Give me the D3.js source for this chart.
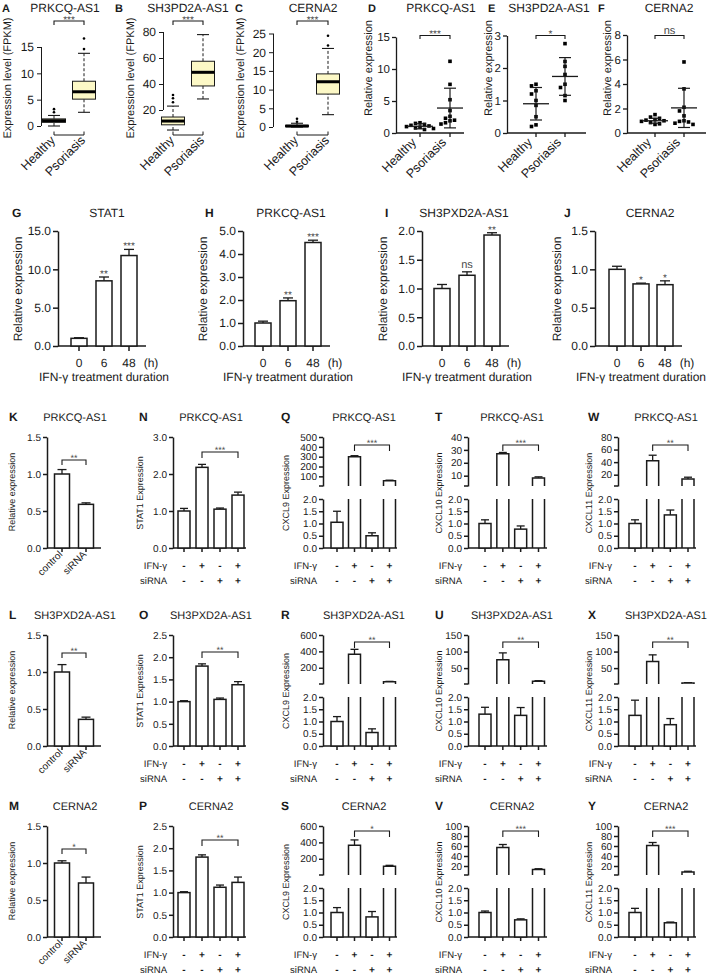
<!DOCTYPE html>
<html>
<head>
<meta charset="utf-8">
<script src="https://cdn.jsdelivr.net/npm/d3@7/dist/d3.min.js"></script>
<style>
html,body{margin:0;padding:0;background:#fff;}
svg{display:block;}
svg text{text-rendering:geometricPrecision;}
</style>
</head>
<body>
<svg id="fig" width="709" height="976" xmlns="http://www.w3.org/2000/svg"></svg>
<script>
// ================= DATA =================
// A–C : RNA-seq boxplots (FPKM)
const boxLetters = ["A", "B", "C"];
const boxGenes = ["PRKCQ-AS1", "SH3PD2A-AS1", "CERNA2"];
const boxGroups = ["Healthy", "Psoriasis"];
const boxTicks = [[0, 5, 10, 15], [20, 40, 60, 80], [0, 5, 10, 15, 20, 25]];
// [lower whisker, Q1, median, Q3, upper whisker]
const boxHealthy = [[0, 0.7, 1.0, 1.35, 2.0], [4.6, 8.6, 11.5, 14.6, 23], [0, 0.1, 0.25, 0.45, 1.0]];
const boxPsoriasis = [[2.6, 5.1, 6.5, 8.5, 13.8], [28.5, 38.5, 49, 57.5, 78], [3.3, 8.8, 12.1, 14.2, 21]];
const boxOutHealthy = [[2.6, 3.2], [26, 29, 31.5], [1.4, 2.2]];
const boxOutPsoriasis = [[14.6, 16.6], [], [21.8, 24.4]];
const boxSig = ["***", "***", "***"];

// D–F : qPCR of patient samples (points, mean ± SD)
const dotLetters = ["D", "E", "F"];
const dotGenes = ["PRKCQ-AS1", "SH3PD2A-AS1", "CERNA2"];
const dotTicks = [[0, 5, 10, 15], [0, 1, 2, 3], [0, 2, 4, 6, 8]];
const dotHealthy = [
  [1.6, 1.5, 1.35, 1.2, 1.1, 1.0, 0.9, 0.8, 0.7, 0.55],
  [1.5, 1.45, 1.3, 1.2, 1.0, 0.85, 0.5, 0.25, 0.2],
  [1.5, 1.3, 1.2, 1.1, 1.05, 1.0, 0.95, 0.85, 0.75, 0.7]
];
const dotPsoriasis = [
  [11.2, 7.6, 5.2, 3.5, 2.6, 2.3, 2.0, 1.9, 1.6, 1.4],
  [2.75, 2.2, 2.05, 1.8, 1.5, 1.4, 1.15, 1.0],
  [5.8, 3.6, 2.1, 1.8, 1.4, 1.0, 0.95, 0.9, 0.8, 0.7]
];
const dotMean = [[1.05, 3.9], [0.9, 1.74], [1.0, 2.05]];
const dotSD = [[0.4, 3.1], [0.5, 0.58], [0.2, 1.6]];
const dotSig = ["***", "*", "ns"];

// G–J : IFN-γ time course
const timeLetters = ["G", "H", "I", "J"];
const timeGenes = ["STAT1", "PRKCQ-AS1", "SH3PXD2A-AS1", "CERNA2"];
const timePoints = ["0", "6", "48"];
const timeTicks = [[0, 5, 10, 15], [0, 1, 2, 3, 4, 5], [0, 0.5, 1, 1.5, 2], [0, 0.5, 1, 1.5]];
const timeMean = [[1.0, 8.5, 11.8], [1.0, 1.97, 4.5], [1.0, 1.23, 1.93], [1.0, 0.81, 0.8]];
const timeErr = [[0.08, 0.5, 0.8], [0.08, 0.12, 0.1], [0.07, 0.06, 0.04], [0.04, 0.01, 0.05]];
const timeSig = [["", "**", "***"], ["", "**", "***"], ["", "ns", "**"], ["", "*", "*"]];

// K–M : knockdown efficiency
const kdGenes = ["PRKCQ-AS1", "SH3PXD2A-AS1", "CERNA2"];
const kdLetters = ["K", "L", "M"];
const kdGroups = ["control", "siRNA"];
const kdTicks = [0, 0.5, 1.0, 1.5];
const kdMean = [[1.0, 0.59], [1.0, 0.36], [1.0, 0.73]];
const kdErr = [[0.06, 0.02], [0.1, 0.03], [0.03, 0.08]];
const kdSig = ["**", "**", "*"];

// N–P : STAT1 expression
const stat1Letters = ["N", "O", "P"];
const conditions = ["c1", "c2", "c3", "c4"];
const ifnSigns = ["-", "+", "-", "+"];
const sirnaSigns = ["-", "-", "+", "+"];
const stat1Ticks = [[0, 1, 2, 3], [0, 0.5, 1, 1.5, 2, 2.5], [0, 0.5, 1, 1.5, 2, 2.5]];
const stat1Mean = [[1.0, 2.18, 1.05, 1.43], [1.0, 1.8, 1.05, 1.38], [1.0, 1.8, 1.12, 1.23]];
const stat1Err = [[0.07, 0.08, 0.03, 0.08], [0.02, 0.05, 0.03, 0.07], [0.02, 0.05, 0.05, 0.12]];
const stat1Sig = ["***", "**", "**"];

// Q–Y : chemokines (broken y axis, lower 0–2)
const lowerTicks = [0, 0.5, 1, 1.5, 2];
const cxcl9Letters = ["Q", "R", "S"];
const cxcl9Upper = [[100, 200, 300, 400, 500], [200, 400, 600], [200, 400, 600]];
const cxcl9Mean = [[1.05, 300, 0.5, 55], [1.0, 365, 0.55, 30], [1.0, 365, 0.82, 110]];
const cxcl9Err = [[0.45, 10, 0.12, 6], [0.2, 60, 0.15, 4], [0.2, 65, 0.22, 10]];
const cxcl9Sig = ["***", "**", "*"];

const cxcl10Letters = ["T", "U", "V"];
const cxcl10Upper = [[10, 20, 30, 40], [50, 100, 150], [20, 40, 60, 80, 100]];
const cxcl10Mean = [[1.0, 27, 0.77, 8.3], [1.3, 75, 1.25, 10], [1.0, 57, 0.7, 13]];
const cxcl10Err = [[0.15, 1, 0.13, 0.8], [0.28, 21, 0.32, 2], [0.06, 6, 0.04, 1.5]];
const cxcl10Sig = ["***", "**", "***"];

const cxcl11Letters = ["W", "X", "Y"];
const cxcl11Upper = [[20, 40, 60, 80], [50, 100, 150], [20, 40, 60, 80, 100]];
const cxcl11Mean = [[1.0, 42, 1.35, 13], [1.25, 70, 0.87, 5], [1.0, 61, 0.58, 8]];
const cxcl11Err = [[0.15, 9, 0.2, 3], [0.62, 20, 0.25, 1], [0.17, 6, 0.03, 1.5]];
const cxcl11Sig = ["**", "**", "***"];

// ================= DRAWING =================
const svg = d3.select("#fig");
const FONT = "'Liberation Sans', Arial, Helvetica, sans-serif";
svg.attr("font-family", FONT);
svg.append("rect").attr("width", 709).attr("height", 976).attr("fill", "#fff");
const INK = "#1a1a1a";
const STAR = "#4a4a4a";
const f1 = d3.format(".1f"), fd = d3.format("d");

function text(g, x, y, s, o = {}) {
  const t = g.append("text").attr("x", x).attr("y", y).text(s)
    .attr("font-size", o.size || 11)
    .attr("fill", o.fill || INK)
    .attr("text-anchor", o.anchor || "middle");
  if (o.bold) t.attr("font-weight", "bold");
  if (o.rot != null) t.attr("transform", `rotate(${o.rot},${x},${y})`);
  if (o.mid) t.attr("dominant-baseline", "central");
  return t;
}
function line(g, x1, y1, x2, y2, w = 1.2, c = INK, dash) {
  const l = g.append("line").attr("x1", x1).attr("y1", y1).attr("x2", x2).attr("y2", y2)
    .attr("stroke", c).attr("stroke-width", w);
  if (dash) l.attr("stroke-dasharray", dash);
  return l;
}
function yAxis(g, x, scale, ticks, fmt, o = {}) {
  const ax = d3.axisLeft(scale).tickValues(ticks).tickFormat(fmt)
    .tickSize(o.ts ?? 4).tickSizeOuter(0).tickPadding(o.pad ?? 2);
  const a = g.append("g").attr("transform", `translate(${x},0)`).call(ax);
  a.attr("font-family", FONT).attr("font-size", o.fs || 10);
  a.select(".domain").attr("stroke", INK).attr("stroke-width", o.sw || 1.3);
  a.selectAll(".tick line").attr("stroke", INK).attr("stroke-width", o.sw || 1.3);
  a.selectAll(".tick text").attr("fill", INK);
  return a;
}
function sigText(g, x, yb, s, size = 10) {
  const star = s.includes("*");
  text(g, x, star ? yb + 0.38 * size : yb, s, {size: star ? size : size + 1, fill: STAR});
}
function bracket(g, x1, x2, y, h, label, size = 10) {
  g.append("path").attr("d", `M${x1},${y + h}V${y}H${x2}V${y + h}`)
    .attr("fill", "none").attr("stroke", INK).attr("stroke-width", 1.1);
  sigText(g, (x1 + x2) / 2, y - 2, label, size);
}
function barRect(g, cx, w, yTop, yBot) {
  g.append("rect").attr("x", cx - w / 2).attr("y", yTop).attr("width", w).attr("height", yBot - yTop)
    .attr("fill", "#fff").attr("stroke", INK).attr("stroke-width", 1.5);
}
function errBar(g, cx, y1, y2, cap = 4.5, w = 1.3) {
  line(g, cx, y1, cx, y2, w);
  line(g, cx - cap, y2, cx + cap, y2, w);
}

// ---------- A–C boxplots ----------
const boxLayout = [
  {ax: 41, xr: [54, 84], dom: [0, 15], rng: [126, 47], lx: 2, tx: 65, yx: 8},
  {ax: 163, xr: [173, 203], dom: [0, 80], rng: [136, 32], lx: 115, tx: 188, yx: 131},
  {ax: 273, xr: [297, 328], dom: [0, 25], rng: [127, 33.5], lx: 235, tx: 313, yx: 241}
];
boxGenes.forEach((gene, i) => {
  const L = boxLayout[i];
  const g = svg.append("g");
  const y = d3.scaleLinear().domain(L.dom).range(L.rng);
  const x = d3.scalePoint().domain(boxGroups).range(L.xr);
  const tk = boxTicks[i];
  const a = yAxis(g, L.ax, y, tk, fd, {fs: 12, ts: 4, pad: 3, sw: 1});
  a.select(".domain").attr("d", `M0.5,${y(tk[0])}V${y(tk[tk.length - 1])}`);
  text(g, L.lx, 12, boxLetters[i], {bold: true, anchor: "start", size: 11});
  text(g, L.tx, 12, gene, {size: 12});
  text(g, L.yx, 78, "Expression level (FPKM)", {size: 11, rot: -90, mid: true});
  [boxHealthy[i], boxPsoriasis[i]].forEach((s, j) => {
    const cx = x(boxGroups[j]), bw = 23, cw = 12;
    line(g, cx, y(s[0]), cx, y(s[1]), 1, INK, "3,2");
    line(g, cx, y(s[3]), cx, y(s[4]), 1, INK, "3,2");
    line(g, cx - cw / 2, y(s[0]), cx + cw / 2, y(s[0]), 1.1);
    line(g, cx - cw / 2, y(s[4]), cx + cw / 2, y(s[4]), 1.1);
    g.append("rect").attr("x", cx - bw / 2).attr("y", y(s[3])).attr("width", bw)
      .attr("height", y(s[1]) - y(s[3])).attr("fill", "#fcf8c6").attr("stroke", INK).attr("stroke-width", 1);
    line(g, cx - bw / 2, y(s[2]), cx + bw / 2, y(s[2]), 3, "#000");
    (j ? boxOutPsoriasis : boxOutHealthy)[i].forEach(v =>
      g.append("circle").attr("cx", cx).attr("cy", y(v)).attr("r", 1.3).attr("fill", "#000"));
    text(g, cx + 2, 141, boxGroups[j], {size: 12.5, anchor: "end", rot: -45});
  });
  const x0 = x(boxGroups[0]), x1 = x(boxGroups[1]);
  line(g, x0, 135, x1, 135, 1);
  line(g, x0, 135, x0, 131.5, 1);
  line(g, x1, 135, x1, 131.5, 1);
  bracket(g, x0, x1, 21, 4, boxSig[i], 10);
});

// ---------- D–F scatter ----------
const dotLayout = [
  {ax: 396, xr: [420, 450], end: 464, dom: [0, 15], rng: [133, 37], lx: 368, tx: 441, yx: 369},
  {ax: 507, xr: [536, 565], end: 586, dom: [0, 3], rng: [133, 35.5], lx: 488, tx: 549, yx: 489},
  {ax: 627, xr: [655, 684], end: 706, dom: [0, 8], rng: [133, 35], lx: 598, tx: 669, yx: 608}
];
function swarm(vals, y, cx) {
  const placed = [];
  const offs = [0, -4.5, 4.5, -9, 9, -13.5, 13.5];
  return vals.map(v => {
    const py = y(v);
    for (const o of offs) {
      if (placed.every(p => Math.hypot(p[0] - (cx + o), p[1] - py) >= 4.3)) {
        placed.push([cx + o, py]); return [cx + o, py];
      }
    }
    placed.push([cx, py]); return [cx, py];
  });
}
dotGenes.forEach((gene, i) => {
  const L = dotLayout[i];
  const g = svg.append("g");
  const y = d3.scaleLinear().domain(L.dom).range(L.rng);
  const x = d3.scalePoint().domain(boxGroups).range(L.xr);
  yAxis(g, L.ax, y, dotTicks[i], fd, {fs: 11.5, ts: 4, pad: 2, sw: 1.3});
  line(g, L.ax, y(0), L.end, y(0), 1.3);
  text(g, L.lx, 12, dotLetters[i], {bold: true, anchor: "start", size: 11});
  text(g, L.tx, 12, gene, {size: 12});
  text(g, L.yx, 68, "Relative expression", {size: 11, rot: -90, mid: true});
  [dotHealthy[i], dotPsoriasis[i]].forEach((vals, j) => {
    const cx = x(boxGroups[j]);
    line(g, cx, y(0), cx, y(0) + 4, 1.3);
    swarm(vals, y, cx).forEach(p =>
      g.append("rect").attr("x", p[0] - 1.8).attr("y", p[1] - 1.8).attr("width", 3.6).attr("height", 3.6).attr("fill", "#000"));
    const m = dotMean[i][j], sd = dotSD[i][j];
    line(g, cx - 13, y(m), cx + 13, y(m), 1.3);
    line(g, cx, y(Math.max(0, m - sd)), cx, y(m + sd), 1.2);
    line(g, cx - 6, y(m + sd), cx + 6, y(m + sd), 1.2);
    line(g, cx - 6, y(Math.max(0, m - sd)), cx + 6, y(Math.max(0, m - sd)), 1.2);
    text(g, cx - 3, 143, boxGroups[j], {size: 12.5, anchor: "end", rot: -45});
  });
  bracket(g, x(boxGroups[0]), x(boxGroups[1]), 35.5, 3.5, dotSig[i], 10);
});

// ---------- G–J time course ----------
const timeCols = [
  {ax: 58, xr: [79, 129], end: 146, lx: 12, tx: 107, yx: 18},
  {ax: 243, xr: [263, 313], end: 330, lx: 205, tx: 291, yx: 203},
  {ax: 422, xr: [442, 492], end: 509, lx: 385, tx: 464, yx: 383},
  {ax: 595, xr: [617, 665], end: 682, lx: 564, tx: 650, yx: 557}
];
timeGenes.forEach((gene, i) => {
  const C = timeCols[i];
  const g = svg.append("g");
  const tk = timeTicks[i];
  const y = d3.scaleLinear().domain([0, tk[tk.length - 1]]).range([346, 231]);
  const x = d3.scalePoint().domain(timePoints).range(C.xr);
  yAxis(g, C.ax, y, tk, f1, {fs: 12, ts: 5, pad: 2, sw: 1.5});
  line(g, C.ax, 346, C.end, 346, 1.5);
  timePoints.forEach((t, k) => {
    const cx = x(t), v = timeMean[i][k], e = timeErr[i][k];
    line(g, cx, 346, cx, 351, 1.5);
    text(g, cx, 367, t, {size: 12});
    errBar(g, cx, y(v), y(v + e), 5);
    barRect(g, cx, 16, y(v), 346);
    if (timeSig[i][k]) sigText(g, cx, y(v + e) - 4, timeSig[i][k], 10);
  });
  text(g, x(timePoints[2]) + 22, 367, "(h)", {size: 12});
  text(g, x(timePoints[1]), 381, "IFN-γ treatment duration", {size: 12});
  text(g, C.lx, 217, timeLetters[i], {bold: true, anchor: "start", size: 12});
  text(g, C.tx, 217, gene, {size: 12});
  text(g, C.yx, 289, "Relative expression", {size: 12, rot: -90, mid: true});
});

// ---------- K–Y ----------
const rowTop = [437, 635, 826];
const kdCol = {ax: 47, xr: [62, 86], bw: 15, end: 101, yx: 12, lx: 9, tx: 75};
const quadCols = [
  {ax: 173, xr: [184, 238], bw: 12, end: 246, yx: 140, lx: 139, tx: 211},
  {ax: 323, xr: [337, 389.5], bw: 12, end: 397, yx: 286, lx: 281, tx: 364},
  {ax: 468, xr: [485, 538.5], bw: 12, end: 547, yx: 439, lx: 435, tx: 512},
  {ax: 618, xr: [635, 688], bw: 12, end: 696, yx: 589, lx: 588, tx: 666}
];
const kdBracketY = [23, 18, 23];
const stat1BracketY = [15, 17, 14];
const brokenBracketY = [8, 7, 5];

function header(g, C, T0, letter, title) {
  text(g, C.lx, T0 - 16, letter, {bold: true, anchor: "start", size: 12});
  text(g, C.tx, T0 - 16, title, {size: 11});
}
function signRows(g, C, x, T0) {
  text(g, C.ax - 6, T0 + 131.5, "IFN-γ", {size: 9.5, anchor: "end"});
  text(g, C.ax - 6, T0 + 146.5, "siRNA", {size: 9.5, anchor: "end"});
  conditions.forEach((c, k) => {
    text(g, x(c), T0 + 132, ifnSigns[k], {size: 10, bold: true});
    text(g, x(c), T0 + 147, sirnaSigns[k], {size: 10, bold: true});
  });
}
function xBase(g, C, x, domain, y0) {
  line(g, C.ax, y0, C.end, y0, 1.5);
  domain.forEach(d => line(g, x(d), y0, x(d), y0 + 4, 1.5));
}

// K–M
kdGenes.forEach((gene, r) => {
  const T0 = rowTop[r], C = kdCol, g = svg.append("g");
  const y = d3.scaleLinear().domain([0, 1.5]).range([T0 + 111, T0]);
  const x = d3.scalePoint().domain(kdGroups).range(C.xr);
  yAxis(g, C.ax, y, kdTicks, f1, {fs: 10, ts: 4, pad: 2, sw: 1.5});
  xBase(g, C, x, kdGroups, T0 + 111);
  kdGroups.forEach((k, j) => {
    const cx = x(k), v = kdMean[r][j], e = kdErr[r][j];
    errBar(g, cx, y(v), y(v + e), 4.5);
    barRect(g, cx, C.bw, y(v), T0 + 111);
    text(g, cx + 1, T0 + 118, k, {size: 10, anchor: "end", rot: -45});
  });
  bracket(g, x(kdGroups[0]), x(kdGroups[1]), T0 + kdBracketY[r], 5, kdSig[r], 9);
  header(g, C, T0, kdLetters[r], gene);
  text(g, C.yx, T0 + 55, "Relative expression", {size: 9, rot: -90, mid: true});
});

// N–P
kdGenes.forEach((gene, r) => {
  const T0 = rowTop[r], C = quadCols[0], g = svg.append("g");
  const tk = stat1Ticks[r];
  const y = d3.scaleLinear().domain([0, tk[tk.length - 1]]).range([T0 + 111, T0]);
  const x = d3.scalePoint().domain(conditions).range(C.xr);
  yAxis(g, C.ax, y, tk, f1, {fs: 10, ts: 4, pad: 2, sw: 1.5});
  xBase(g, C, x, conditions, T0 + 111);
  conditions.forEach((c, k) => {
    const cx = x(c), v = stat1Mean[r][k], e = stat1Err[r][k];
    errBar(g, cx, y(v), y(v + e), 4);
    barRect(g, cx, C.bw, y(v), T0 + 111);
  });
  bracket(g, x(conditions[1]), x(conditions[3]), T0 + stat1BracketY[r], 6, stat1Sig[r], 9);
  signRows(g, C, x, T0);
  header(g, C, T0, stat1Letters[r], gene);
  text(g, C.yx, T0 + 56, "STAT1 Expression", {size: 9, rot: -90, mid: true});
});

// Q–Y broken-axis panels
function brokenPanel(C, r, letter, gene, ylab, upperTicks, means, errs, sig) {
  const T0 = rowTop[r], g = svg.append("g");
  const upMax = upperTicks[upperTicks.length - 1];
  const yl = d3.scaleLinear().domain([0, 2]).range([T0 + 111, T0 + 62]);
  const yu = d3.scaleLinear().domain([2, upMax]).range([T0 + 49, T0]);
  const x = d3.scalePoint().domain(conditions).range(C.xr);
  yAxis(g, C.ax, yl, lowerTicks, f1, {fs: 10, ts: 4, pad: 2, sw: 1.5});
  yAxis(g, C.ax, yu, upperTicks, fd, {fs: 10, ts: 4, pad: 2, sw: 1.5});
  line(g, C.ax - 4, T0 + 49, C.ax, T0 + 49, 1.5);
  xBase(g, C, x, conditions, T0 + 111);
  conditions.forEach((c, k) => {
    const cx = x(c), v = means[k], e = errs[k], hw = C.bw / 2;
    if (v <= 2) {
      errBar(g, cx, yl(v), yl(v + e), 4);
      barRect(g, cx, C.bw, yl(v), T0 + 111);
    } else {
      g.append("path").attr("d", `M${cx - hw},${T0 + 111}V${T0 + 62}M${cx + hw},${T0 + 111}V${T0 + 62}`)
        .attr("stroke", INK).attr("stroke-width", 1.5).attr("fill", "none");
      errBar(g, cx, yu(v), yu(v + e), 4);
      g.append("path").attr("d", `M${cx - hw},${T0 + 49}V${yu(v)}H${cx + hw}V${T0 + 49}`)
        .attr("stroke", INK).attr("stroke-width", 1.5).attr("fill", "#fff");
    }
  });
  bracket(g, x(conditions[1]), x(conditions[3]), T0 + brokenBracketY[r], 6, sig, 9);
  signRows(g, C, x, T0);
  header(g, C, T0, letter, gene);
  text(g, C.yx, T0 + 56, ylab, {size: 9, rot: -90, mid: true});
}
kdGenes.forEach((gene, r) => {
  brokenPanel(quadCols[1], r, cxcl9Letters[r], gene, "CXCL9 Expression", cxcl9Upper[r], cxcl9Mean[r], cxcl9Err[r], cxcl9Sig[r]);
  brokenPanel(quadCols[2], r, cxcl10Letters[r], gene, "CXCL10 Expression", cxcl10Upper[r], cxcl10Mean[r], cxcl10Err[r], cxcl10Sig[r]);
  brokenPanel(quadCols[3], r, cxcl11Letters[r], gene, "CXCL11 Expression", cxcl11Upper[r], cxcl11Mean[r], cxcl11Err[r], cxcl11Sig[r]);
});
</script>
</body>
</html>
